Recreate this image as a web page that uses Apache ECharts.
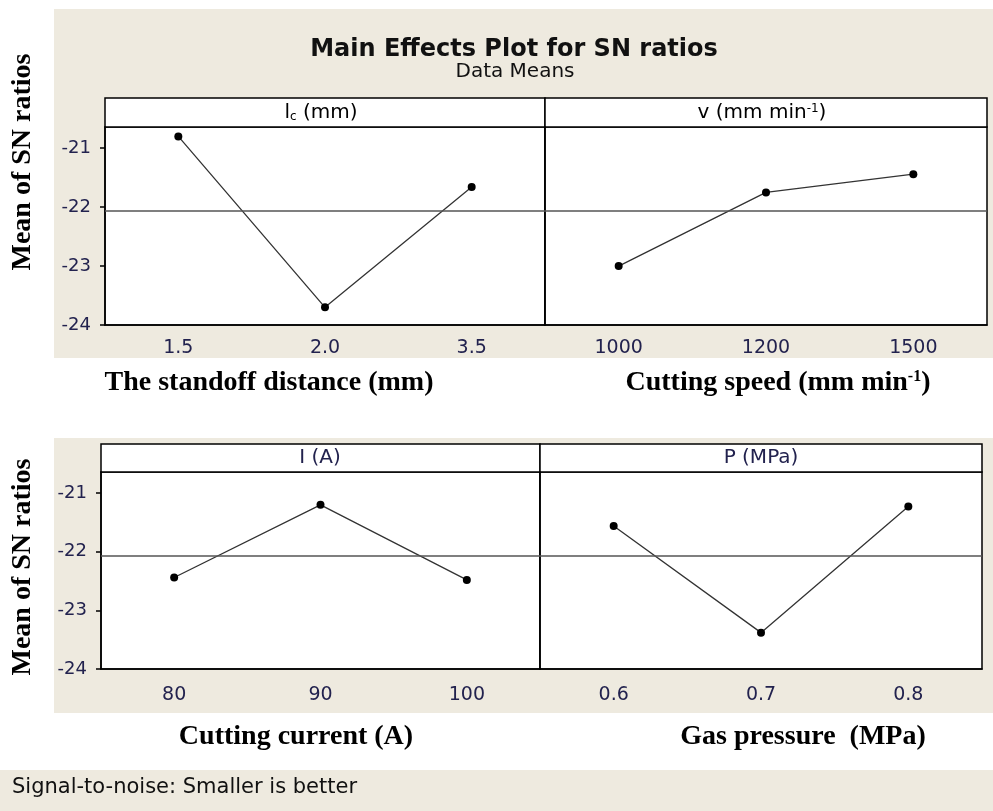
<!DOCTYPE html>
<html>
<head>
<meta charset="utf-8">
<script src="https://cdn.jsdelivr.net/npm/echarts@6/dist/echarts.min.js"></script>
<style>
  html, body { margin: 0; padding: 0; background: #fff; }
  #chart { width: 993px; height: 811px; }
</style>
</head>
<body>
<div id="chart"></div>
<script>
// level labels and SN ratio means
var standoffLevels = ['1.5', '2.0', '3.5'];
var standoffSN = [-20.80, -23.70, -21.66];
var speedLevels = ['1000', '1200', '1500'];
var speedSN = [-23.00, -21.75, -21.44];
var currentLevels = ['80', '90', '100'];
var currentSN = [-22.44, -21.20, -22.48];
var pressureLevels = ['0.6', '0.7', '0.8'];
var pressureSN = [-21.56, -23.38, -21.23];
var meanSN = -22.06;
var yTicks = [-24, -23, -22, -21];

var beige = '#eeeadf';
var navy = '#22224e';
var sans = '"DejaVu Sans", Verdana, sans-serif';
var serif = '"Liberation Serif", "Times New Roman", serif';

var chart = echarts.init(document.getElementById('chart'));

var grids = [
  { left: 105, top: 127, width: 440, height: 198 },
  { left: 545, top: 127, width: 442, height: 198 },
  { left: 101, top: 472, width: 439, height: 197 },
  { left: 540, top: 472, width: 442, height: 197 }
];
var levels = [standoffLevels, speedLevels, currentLevels, pressureLevels];
var values = [standoffSN, speedSN, currentSN, pressureSN];

function xAxis(i) {
  return {
    type: 'category',
    gridIndex: i,
    data: levels[i],
    boundaryGap: true,
    axisLine: { lineStyle: { color: '#000', width: 1.5 } },
    axisTick: { alignWithLabel: true, length: 6, lineStyle: { color: '#000', width: 1.5 } },
    axisLabel: { color: navy, fontSize: 19, fontFamily: sans, margin: i < 2 ? 14 : 17 }
  };
}

function yAxis(i) {
  var showLabels = (i % 2 === 0);
  return {
    type: 'value',
    gridIndex: i,
    min: -24,
    max: -20.64,
    interval: 1,
    splitLine: { show: false },
    axisLine: { show: true, lineStyle: { color: '#000', width: 1.5 } },
    axisTick: { show: showLabels, customValues: yTicks, length: 5, lineStyle: { color: '#000', width: 1.5 } },
    axisLabel: { show: showLabels, customValues: yTicks, color: navy, fontSize: 18, fontFamily: sans, margin: 14 }
  };
}

function series(i) {
  return {
    type: 'line',
    xAxisIndex: i,
    yAxisIndex: i,
    data: values[i],
    symbol: 'circle',
    symbolSize: 8,
    itemStyle: { color: '#000' },
    lineStyle: { color: '#333', width: 1.3 },
    markLine: {
      silent: true,
      symbol: 'none',
      label: { show: false },
      lineStyle: { color: '#555', width: 1.5, type: 'solid' },
      data: [{ yAxis: meanSN }]
    }
  };
}

function strip(g, top, h) {
  return {
    type: 'rect',
    shape: { x: g.left, y: top, width: g.width, height: h },
    style: { fill: '#fff', stroke: '#000', lineWidth: 1.5 }
  };
}

function label(x, y, text, opts) {
  return {
    type: 'text',
    x: x, y: y,
    rotation: opts.rotation || 0,
    style: {
      text: text,
      font: opts.font,
      fill: opts.color || '#000',
      align: opts.align || 'center',
      verticalAlign: 'middle',
      rich: opts.rich
    }
  };
}

var serifBold = 'bold 28px ' + serif;
var supRich = {
  m: { font: serifBold, fill: '#000' },
  s: { font: 'bold 16px ' + serif, fill: '#000', verticalAlign: 'top' }
};
var stripRich = {
  m: { font: '20px ' + sans, fill: '#000' },
  sub: { font: '12px ' + sans, fill: '#000', verticalAlign: 'bottom' },
  sup: { font: '12px ' + sans, fill: '#000', verticalAlign: 'top' }
};

var option = {
  animation: false,
  backgroundColor: '#fff',
  title: [
    { text: 'Main Effects Plot for SN ratios', left: 509, top: 33, textAlign: 'center',
      textStyle: { fontFamily: sans, fontSize: 24, fontWeight: 'bold', color: '#111' } },
    { text: 'Data Means', left: 510, top: 57, textAlign: 'center',
      textStyle: { fontFamily: sans, fontSize: 20, fontWeight: 'normal', color: '#111' } }
  ],
  grid: grids.map(function (g) {
    return { left: g.left, top: g.top, width: g.width, height: g.height,
      show: true, backgroundColor: '#fff', borderColor: '#000', borderWidth: 1.5 };
  }),
  xAxis: [0, 1, 2, 3].map(xAxis),
  yAxis: [0, 1, 2, 3].map(yAxis),
  series: [0, 1, 2, 3].map(series),
  graphic: [
    // panel backgrounds
    { type: 'rect', z: -100, shape: { x: 54, y: 9, width: 939, height: 349 }, style: { fill: beige } },
    { type: 'rect', z: -100, shape: { x: 54, y: 438, width: 939, height: 275 }, style: { fill: beige } },
    { type: 'rect', z: -100, shape: { x: 0, y: 770, width: 993, height: 41 }, style: { fill: beige } },
    // factor strips
    strip(grids[0], 98, 29),
    strip(grids[1], 98, 29),
    strip(grids[2], 444, 28),
    strip(grids[3], 444, 28),
    label(321, 113, '{m|l}{sub|c}{m| (mm)}', { rich: stripRich }),
    label(762, 113, '{m|v (mm min}{sup|-1}{m|)}', { rich: stripRich }),
    label(320, 458, 'I (A)', { font: '20px ' + sans, color: navy }),
    label(761, 458, 'P (MPa)', { font: '20px ' + sans, color: navy }),
    // axis names
    label(23, 162, 'Mean of SN ratios', { font: serifBold, rotation: Math.PI / 2 }),
    label(23, 567, 'Mean of SN ratios', { font: serifBold, rotation: Math.PI / 2 }),
    label(269, 383, 'The standoff distance (mm)', { font: serifBold }),
    label(778, 383, '{m|Cutting speed (mm min}{s|-1}{m|)}', { rich: supRich }),
    label(296, 737, 'Cutting current (A)', { font: serifBold }),
    label(803, 737, 'Gas pressure  (MPa)', { font: serifBold }),
    // footer
    label(12, 788, 'Signal-to-noise: Smaller is better', { font: '21px ' + sans, color: '#111', align: 'left' })
  ]
};

chart.setOption(option);
</script>
</body>
</html>
